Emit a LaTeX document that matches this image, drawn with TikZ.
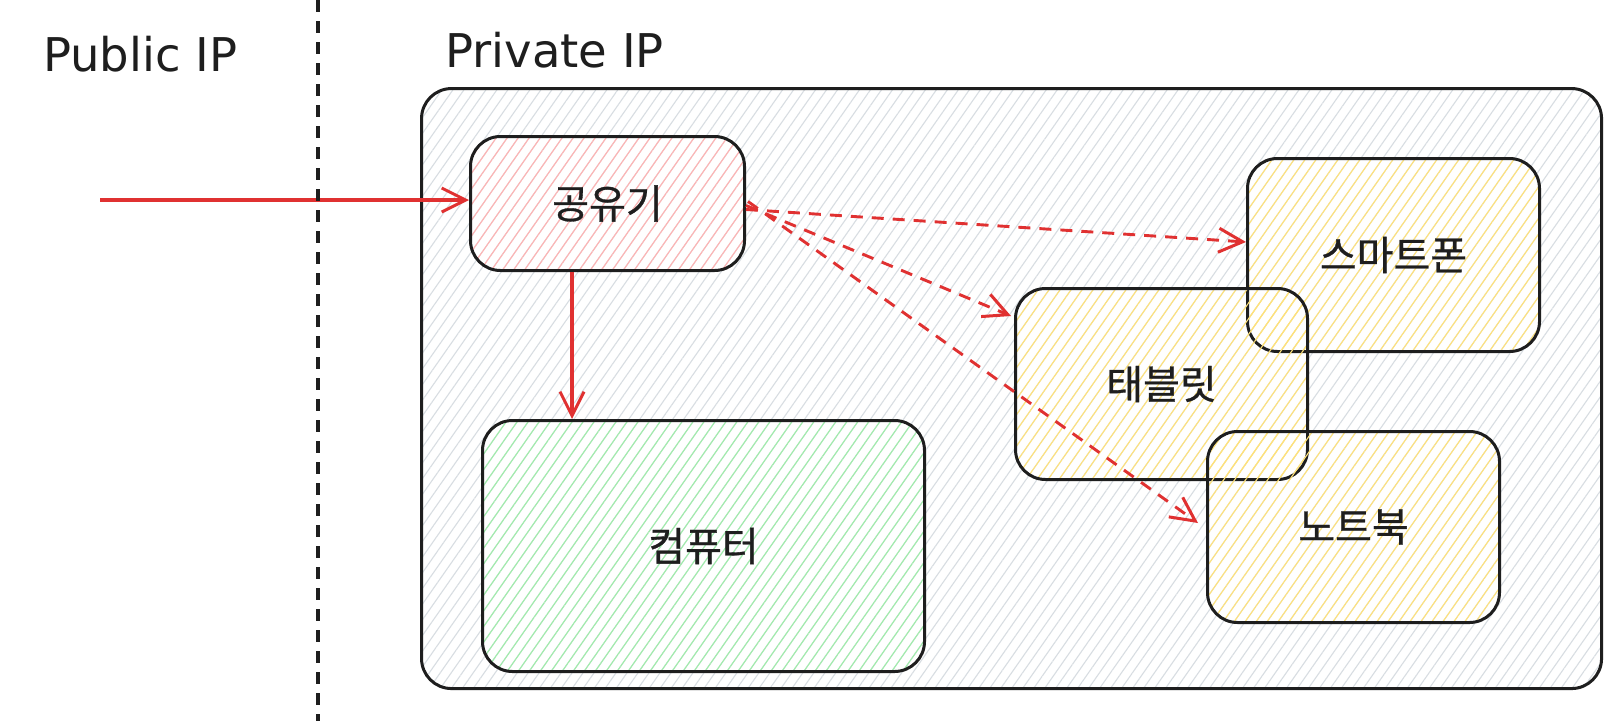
\documentclass[tikz,border=0pt]{standalone}
\usepackage{fontspec}
\setmainfont{DejaVu Sans}
\newfontfamily\kr[FakeBold=0.8]{Noto Sans CJK KR}
\usetikzlibrary{arrows.meta,patterns.meta}
\definecolor{ink}{HTML}{1E1E1E}
\definecolor{redl}{HTML}{E03131}
\definecolor{hgray}{HTML}{D8DDE2}
\definecolor{hred}{HTML}{FFB3B3}
\definecolor{hgreen}{HTML}{A0EDAB}
\definecolor{hyellow}{HTML}{FFE27A}
\begin{document}
\begin{tikzpicture}[x=1pt,y=-1pt,
  box/.style={draw=ink, line width=3pt, rounded corners=30pt, inner sep=0pt,
    anchor=north west, font=\kr\fontsize{40}{42}\selectfont, text=ink},
  hatch/.style={pattern={Lines[angle=55,distance=9pt,line width=1.1pt]}, pattern color=#1},
  lbl/.style={font=\fontsize{46.5}{48}\selectfont, anchor=west, inner sep=0pt, text=ink},
  solidarrow/.style={draw=redl, line width=3.2pt, -{Straight Barb[length=24pt,width=24pt,line width=3pt]}},
  dasharrow/.style={solidarrow, line width=2.9pt, dash pattern=on 12pt off 9pt}
]
\path[use as bounding box] (0,0) rectangle (1623,721);
\fill[white] (0,0) rectangle (1623,721);

\node[lbl] (pub) at (43,54) {Public IP};
\node[lbl] (priv) at (445,50) {Private IP};

\node[box, hatch=hgray, minimum width=1180pt, minimum height=600pt] (outer) at (421,88) {};
\node[box, hatch=hred, minimum width=274pt, minimum height=134pt] (gong) at (469,135) {공유기};
\node[box, hatch=hgreen, minimum width=442pt, minimum height=251pt] (pc) at (481,419) {컴퓨터};
\node[box, hatch=hyellow, minimum width=292pt, minimum height=193pt] (sp) at (1246,157) {스마트폰};
\node[box, hatch=hyellow, minimum width=292pt, minimum height=191pt] (tab) at (1014,287) {태블릿};
\node[box, hatch=hyellow, minimum width=292pt, minimum height=191pt] (nb) at (1206,430) {노트북};

\coordinate (src) at (100,200);
\draw[solidarrow] (src) -- (gong.west |- src);
\draw[solidarrow] (gong.south -| 572,0) -- (pc.north -| 572,0);

\draw[dasharrow] ([yshift=-6pt]gong.east) -- ([yshift=13pt]sp.west);
\draw[dasharrow] ([yshift=-2pt]gong.east) -- ([xshift=-3pt,yshift=-29pt]tab.north west);
\draw[dasharrow] ([xshift=2pt,yshift=2pt]gong.east) -- ([xshift=-8pt,yshift=4pt]nb.west);

\draw[ink, line width=3.8pt, dash pattern=on 12pt off 9pt] (318,0) -- (318,721);
\end{tikzpicture}
\end{document}
